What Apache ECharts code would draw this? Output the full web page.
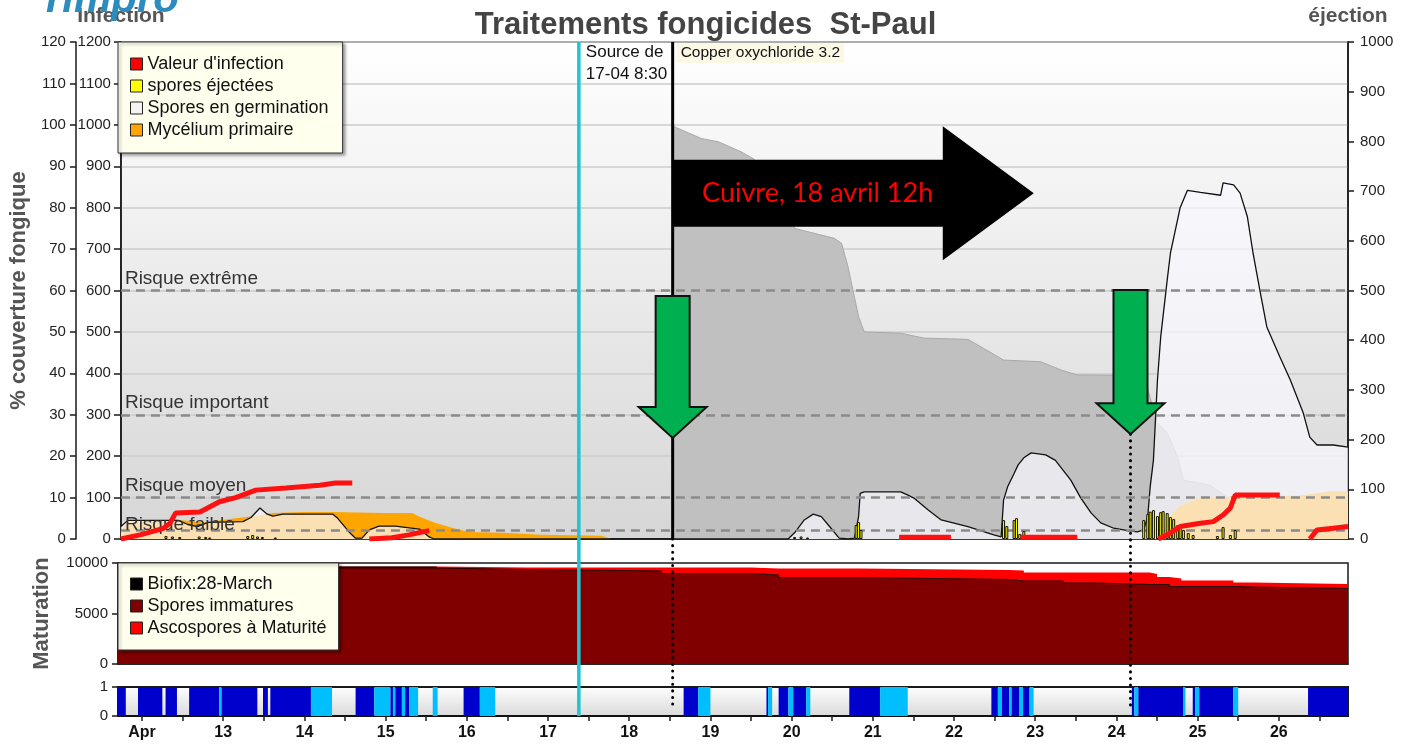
<!DOCTYPE html>
<html>
<head>
<meta charset="utf-8">
<script src="https://cdn.jsdelivr.net/npm/echarts@6.0.0/dist/echarts.min.js"></script>
<style>
html,body{margin:0;padding:0;background:#ffffff;}
#chart{width:1411px;height:746px;}
</style>
</head>
<body>
<div id="chart"></div>
<script>
// ================= DATA (days of April as decimal) =================
const xRange = [11.704, 26.852];
const dayLabels = [12,13,14,15,16,17,18,19,20,21,22,23,24,25,26];
const halfDayTicks = [12,12.5,13,13.5,14,14.5,15,15.5,16,16.5,17,17.5,18,18.5,19,19.5,20,20.5,21,21.5,22,22.5,23,23.5,24,24.5,25,25.5,26,26.5];

// Copper protection cover (% couverture fongique, 0-120 axis)
const copperCover = [[18.515,100],[18.54,99.5],[18.87,96.7],[19.08,95.9],[19.36,93.5],[19.52,91.7],[19.73,86],[19.92,80],[20.02,75],[20.51,72.6],[20.60,71.4],[20.68,65.7],[20.74,60.1],[20.81,53.7],[20.88,50],[21.33,49.7],[21.62,48.5],[22.16,48.2],[22.32,46.4],[22.60,43.2],[23.06,42.8],[23.31,40.8],[23.51,39.6],[24.33,39.5],[24.50,28],[24.62,25.6],[24.75,19.8],[24.82,14.2],[25.15,13],[25.36,10.1],[26.26,9.6],[26.852,9.6]];

// Mycélium primaire (0-120 axis)
const mycelium = [[11.704,2],[11.79,4],[12.47,4.5],[12.71,4],[13.12,5],[13.33,5.5],[13.58,6.3],[13.95,6.5],[14.32,6.5],[14.93,6.3],[15.30,6.3],[15.39,5.4],[15.58,3.9],[15.79,2.7],[16.00,1.7],[16.41,1.5],[16.90,1.0],[17.64,0.8],[17.76,0],[24.50,0],[24.54,3],[24.78,8],[25.03,10],[26.26,10.5],[26.63,11.5],[26.852,11.5]];

// Spores en germination (0-120 axis)
const germination = [[11.704,3],[11.79,4.5],[12.41,4.5],[12.53,3.5],[12.65,3],[12.78,4],[13.21,4.2],[13.31,5.2],[13.42,7.5],[13.51,6],[13.58,5.5],[13.70,6],[14.32,6],[14.38,5],[14.52,1.7],[14.60,0.2],[14.68,0.2],[14.77,2.2],[14.89,3.1],[15.09,3.1],[15.39,2.4],[15.51,0.5],[15.57,0],
[19.94,0],[20.02,1.5],[20.14,4.6],[20.25,6],[20.35,5.4],[20.47,2.6],[20.57,0.2],[20.68,0],[20.76,0.2],[20.81,5.4],[20.83,11],[20.88,11.4],[21.33,11.4],[21.42,10.6],[21.50,9.8],[21.67,7],[21.83,4.6],[22.16,3],[22.48,1],[22.57,0.5],[22.60,9.4],[22.65,12.6],[22.73,15.8],[22.78,17.9],[22.85,19.6],[22.94,20.8],[23.12,20.3],[23.24,19],[23.43,14.2],[23.55,10],[23.68,6.3],[23.80,3.9],[23.96,2.6],[24.13,2],[24.25,1.7],[24.33,2.2],[24.38,5.4],[24.41,12.6],[24.45,19],[24.50,38.4],[24.54,48.8],[24.62,62.5],[24.66,69],[24.78,80],[24.87,84.2],[25.03,83.7],[25.28,83],[25.31,86],[25.44,85.5],[25.52,83.5],[25.61,77.8],[25.68,69],[25.77,59.4],[25.85,51.2],[26.01,44],[26.14,38.4],[26.30,30.4],[26.38,24.6],[26.47,22.7],[26.67,22.7],[26.852,22.2]];

// Valeur d'infection (Infection axis 0-1200); null breaks the line
const infection = [[11.704,0],[11.94,10],[12.22,25],[12.31,38],[12.38,63],[12.68,65],[12.92,90],[13.12,100],[13.37,118],[13.74,123],[14.16,130],[14.35,135],[14.56,135],[14.57,null],
[14.77,0],[15.05,3],[15.26,10],[15.42,17],[15.51,20],[15.52,null],
[21.31,4],[21.95,4],[21.96,null],
[22.81,4],[23.51,4],[23.52,null],
[24.51,0],[24.62,10],[24.78,30],[25.03,38],[25.19,42],[25.31,58],[25.40,75],[25.46,106],[26.01,106],[26.02,null],
[26.38,0],[26.47,22],[26.67,26],[26.852,30]];

// spores éjectées (éjection axis 0-1000)
const ejected = [[12.26,6],[12.34,5],[12.43,4],[12.67,5],[12.75,4],[12.80,3],[13.27,6],[13.33,8],[13.39,5],[13.45,4],[13.61,3],[20.02,4],[20.10,5],[20.18,3],[20.78,28],[20.81,34],[20.84,18],[22.60,38],[22.64,26],[22.73,38],[22.76,42],[22.80,10],[22.85,16],[24.33,38],[24.38,50],[24.41,55],[24.45,58],[24.50,46],[24.54,54],[24.57,56],[24.62,52],[24.66,44],[24.70,40],[24.75,28],[24.78,22],[24.82,18],[24.88,12],[24.94,8],[25.24,6],[25.31,24],[25.40,8],[25.46,18]];

// Maturation (layers, step)
const matDays   = [11.704,15.63,16.73,18.40,19.50,19.84,20.83,22.67,22.86,23.35,23.75,24.41,24.50,24.65,24.80,25.44,25.68,26.852];
const immature  = [9500,9360,9210,8960,8810,8560,8370,8220,8220,8020,7870,7870,7870,7670,7670,7620,7480,7480];
const biofix    = [150,0,0,0,0,0,0,0,0,0,0,0,0,0,0,0,0,0];
const mature    = [0,190,340,590,640,890,940,1040,840,1040,1190,1040,740,800,600,450,440,440];

// Leaf wetness strip: [start, end, level] level 2 = dark blue, 1 = light blue
const wetness = [[11.704,11.80,2],[11.95,12.25,2],[12.29,12.43,2],[12.58,12.95,2],[12.95,12.98,1],[12.98,13.42,2],[13.49,13.55,2],[13.58,14.08,2],[14.08,14.34,1],[14.63,14.86,2],[14.86,15.06,1],[15.06,15.09,2],[15.09,15.12,1],[15.12,15.20,2],[15.20,15.24,1],[15.24,15.29,2],[15.29,15.40,1],[15.58,15.64,1],[15.96,16.16,2],[16.16,16.35,1],[18.67,18.85,2],[18.85,19.00,1],[19.69,19.71,2],[19.71,19.76,1],[19.84,19.96,2],[19.96,20.02,1],[20.02,20.18,2],[20.18,20.23,1],[20.71,21.09,2],[21.09,21.43,1],[22.46,22.54,2],[22.54,22.59,1],[22.59,22.68,2],[22.68,22.71,1],[22.71,22.80,2],[22.80,22.85,1],[22.85,22.93,2],[22.93,22.98,1],[24.19,24.22,2],[24.22,24.27,1],[24.27,24.82,2],[24.82,24.85,1],[24.94,24.97,2],[24.97,25.02,1],[25.02,25.44,2],[25.44,25.50,1],[26.36,26.852,2]];

// Risk thresholds (Infection axis)
const riskLevels = [600,300,100,20];
const riskNames = ['Risque extrême','Risque important','Risque moyen','Risque faible'];

// Annotations
const sourceDay = 17.357;          // Source de 17-04 8:30
const copperDay = 18.515;          // Copper oxychloride 3.2 / Cuivre 18 avril 12h
const arrowDays = [18.515, 24.167];
const arrowTopVals = [58.7, 60.1];
const arrowTipVals = [24.4, 25.3];
const cuivreArrowEnd = 22.973;
const cuivreArrowVal = 83.5;

// ================= CHART =================
const FONT = '"Liberation Sans", Arial, sans-serif';
const chart = echarts.init(document.getElementById('chart'), null, {renderer:'canvas'});
const axisLine = {show:true, onZero:false, lineStyle:{color:'#1a1a1a', width:1.5}};
const tickStyle = {color:'#1a1a1a', width:1.5};
const plain = v => String(v);
const bgMain = new echarts.graphic.LinearGradient(0,0,0,1,[{offset:0,color:'#ffffff'},{offset:1,color:'#d6d6d6'}]);
const bgStrip = new echarts.graphic.LinearGradient(0,0,0,1,[{offset:0,color:'#ffffff'},{offset:1,color:'#d9d9d9'}]);

const legendBase = {
  orient:'vertical', icon:'rect', itemWidth:12, itemHeight:12, itemGap:4, z:20,
  backgroundColor:'#ffffee', borderColor:'#333', borderWidth:1,
  shadowColor:'rgba(0,0,0,0.35)', shadowBlur:3, shadowOffsetX:2, shadowOffsetY:2,
  selectedMode:false, itemStyle:{borderColor:'#222', borderWidth:1},
  textStyle:{fontSize:18, color:'#111', fontFamily:FONT}
};

// layered maturation totals (built from the arrays above)
const matTotal = matDays.map((d,i)=>[d, immature[i] + biofix[i] + mature[i]]);
const matImmBio = matDays.map((d,i)=>[d, immature[i] + biofix[i]]);
const matImm = matDays.map((d,i)=>[d, immature[i]]);

const option = {
  animation:false,
  backgroundColor:'#ffffff',
  textStyle:{fontFamily:FONT},
  title:{text:'Traitements fongicides  St-Paul', left:'center', top:5,
    textStyle:{fontSize:31, fontWeight:'bold', color:'#444', fontFamily:FONT}},
  legend:[
    Object.assign({}, legendBase, {left:118, top:42, padding:[13,14,14,12],
      data:[
        {name:"Valeur d'infection", itemStyle:{color:'#ff0000'}},
        {name:'spores éjectées', itemStyle:{color:'#ffff00'}},
        {name:'Spores en germination', itemStyle:{color:'#f4f4f4'}},
        {name:'Mycélium primaire', itemStyle:{color:'#ffa500'}}
      ]}),
    Object.assign({}, legendBase, {left:118, top:563, padding:[12,12,13,12],
      data:[
        {name:'Biofix:28-March', itemStyle:{color:'#000000'}},
        {name:'Spores immatures', itemStyle:{color:'#800000'}},
        {name:'Ascospores à Maturité', itemStyle:{color:'#ff0000'}}
      ]})
  ],
  grid:[
    {left:118, top:42, width:1230, height:497, show:true, backgroundColor:bgMain, borderColor:'#1a1a1a', borderWidth:1.5},
    {left:118, top:563, width:1230, height:101, show:true, backgroundColor:'#ffffff', borderColor:'#1a1a1a', borderWidth:1.5},
    {left:118, top:687, width:1230, height:29, show:true, backgroundColor:bgStrip, borderColor:'#1a1a1a', borderWidth:2}
  ],
  xAxis:[
    {type:'value', gridIndex:0, min:xRange[0], max:xRange[1], axisLine:axisLine, axisTick:{show:false}, axisLabel:{show:false}, splitLine:{show:false}},
    {type:'value', gridIndex:1, min:xRange[0], max:xRange[1], axisLine:axisLine, axisTick:{show:false}, axisLabel:{show:false}, splitLine:{show:false}},
    {type:'value', gridIndex:2, min:xRange[0], max:xRange[1], axisLine:{show:true,onZero:false,lineStyle:{color:'#111',width:2}},
      axisTick:{show:true, customValues:halfDayTicks, length:5, lineStyle:tickStyle},
      axisLabel:{customValues:dayLabels, formatter:v => (v === 12 ? 'Apr' : String(v)), fontSize:16, fontWeight:'bold', color:'#111', margin:9},
      splitLine:{show:false}}
  ],
  yAxis:[
    {type:'value', gridIndex:0, position:'left', offset:45, min:0, max:120, interval:10,
      axisLine:axisLine, axisTick:{show:true, length:6, lineStyle:tickStyle},
      axisLabel:{fontSize:15, color:'#222', margin:10, formatter:plain}, splitLine:{show:false},
      name:'% couverture fongique', nameLocation:'middle', nameRotate:90, nameGap:45,
      nameTextStyle:{fontSize:22, fontWeight:'bold', color:'#555'}},
    {type:'value', gridIndex:0, position:'left', offset:0, min:0, max:1200, interval:100,
      axisLine:axisLine, axisTick:{show:true, length:7, lineStyle:tickStyle},
      axisLabel:{fontSize:15, color:'#222', margin:10, formatter:plain},
      splitLine:{show:true, lineStyle:{color:'#cdcdcd', width:1.5}},
      name:'Infection', nameLocation:'end', nameGap:15,
      nameTextStyle:{fontSize:21, fontWeight:'bold', color:'#555'}},
    {type:'value', gridIndex:0, position:'right', min:0, max:1000, interval:100,
      axisLine:axisLine, axisTick:{show:true, length:6, lineStyle:tickStyle},
      axisLabel:{fontSize:15, color:'#222', margin:12, formatter:plain}, splitLine:{show:false},
      name:'éjection', nameLocation:'end', nameGap:15,
      nameTextStyle:{fontSize:21, fontWeight:'bold', color:'#555'}},
    {type:'value', gridIndex:1, position:'left', min:0, max:10000, interval:5000,
      axisLine:axisLine, axisTick:{show:true, length:6, lineStyle:tickStyle},
      axisLabel:{fontSize:15, color:'#222', margin:10, formatter:plain}, splitLine:{show:false},
      name:'Maturation', nameLocation:'middle', nameRotate:90, nameGap:65,
      nameTextStyle:{fontSize:22, fontWeight:'bold', color:'#555'}},
    {type:'value', gridIndex:2, position:'left', min:0, max:1, interval:1,
      axisLine:axisLine, axisTick:{show:true, length:6, lineStyle:tickStyle},
      axisLabel:{fontSize:15, color:'#222', margin:10, formatter:plain}, splitLine:{show:false}}
  ],
  series:[
    {name:'Copper oxychloride 3.2', type:'line', xAxisIndex:0, yAxisIndex:0, data:copperCover,
      showSymbol:false, silent:true, lineStyle:{color:'#a9a9a9', width:1},
      areaStyle:{color:'#c0c0c0', opacity:1}, z:2},
    {name:'Mycélium primaire', type:'line', xAxisIndex:0, yAxisIndex:0, data:mycelium,
      showSymbol:false, silent:true, lineStyle:{width:0, color:'#ffa500'}, itemStyle:{color:'#ffa500'},
      areaStyle:{color:'#ffa500', opacity:1}, z:3},
    {name:'Spores en germination', type:'line', xAxisIndex:0, yAxisIndex:0, data:germination,
      showSymbol:false, silent:true, lineStyle:{color:'#111', width:1.3}, itemStyle:{color:'#f4f4f4'},
      areaStyle:{color:'rgba(250,250,255,0.7)', opacity:1}, z:4},
    {name:'spores éjectées', type:'bar', xAxisIndex:0, yAxisIndex:2, data:ejected, barWidth:3,
      silent:true, itemStyle:{color:'#ffff00', borderColor:'#141400', borderWidth:1}, z:5},
    {name:"Valeur d'infection", type:'line', xAxisIndex:0, yAxisIndex:1, data:infection,
      showSymbol:false, connectNulls:false, silent:true,
      lineStyle:{color:'#ff1111', width:5}, itemStyle:{color:'#ff0000'}, z:6,
      markLine:{silent:true, symbol:['none','none'], animation:false,
        lineStyle:{type:[9,6], color:'#8a8a8a', width:2.5},
        label:{show:true, position:'insideStartTop', formatter:'{b}', fontSize:19, color:'#333', distance:[4,2]},
        data:riskLevels.map((v,i)=>({yAxis:v, name:riskNames[i],
          label: i === 3 ? {distance:[4,-4]} : undefined}))}},
    {name:'Ascospores à Maturité', type:'line', xAxisIndex:1, yAxisIndex:3, step:'end',
      data:matTotal, showSymbol:false, silent:true,
      lineStyle:{width:0}, itemStyle:{color:'#ff0000'}, areaStyle:{color:'#ff0000', opacity:1}, z:2},
    {name:'Biofix:28-March', type:'line', xAxisIndex:1, yAxisIndex:3, step:'end',
      data:matImmBio, showSymbol:false, silent:true,
      lineStyle:{width:0}, itemStyle:{color:'#000'}, areaStyle:{color:'#000', opacity:1}, z:2},
    {name:'Spores immatures', type:'line', xAxisIndex:1, yAxisIndex:3, step:'end',
      data:matImm, showSymbol:false, silent:true,
      lineStyle:{color:'#2a0000', width:1}, itemStyle:{color:'#800000'},
      areaStyle:{color:'#800000', opacity:1}, z:2},
    {name:'Humectation', type:'custom', xAxisIndex:2, yAxisIndex:4, data:wetness, silent:true,
      encode:{x:[0,1]}, clip:true,
      renderItem:function(params, api){
        const s = api.coord([api.value(0), 1]);
        const e = api.coord([api.value(1), 0]);
        return {type:'rect', shape:{x:s[0], y:s[1], width:Math.max(1, e[0]-s[0]), height:e[1]-s[1]},
          style:{fill: api.value(2) === 2 ? '#0000cc' : '#00bfff'}};
      }, z:2}
  ]
};
chart.setOption(option);

// ================= ANNOTATIONS (positioned with the chart's own scales) =================
const gx = d => chart.convertToPixel({xAxisIndex:0}, d);
const gy = v => chart.convertToPixel({yAxisIndex:0}, v);
const plotTop = gy(120), plotBottom = gy(0);
const stripBottom = chart.convertToPixel({yAxisIndex:4}, 0);
const dotEnd = chart.convertToPixel({yAxisIndex:4}, 0.35);

const els = [];
const xs = gx(sourceDay);
els.push({type:'line', z:50, silent:true, shape:{x1:xs, y1:plotTop, x2:xs, y2:stripBottom}, style:{stroke:'#1fc6d2', lineWidth:3.5}});
const xc = gx(copperDay);
els.push({type:'line', z:50, silent:true, shape:{x1:xc, y1:plotTop, x2:xc, y2:plotBottom}, style:{stroke:'#000', lineWidth:3}});
els.push({type:'line', z:50, silent:true, shape:{x1:xc, y1:plotBottom, x2:xc, y2:dotEnd}, style:{stroke:'#000', lineWidth:3, lineDash:[0.1,6.5], lineCap:'round'}});
const x2 = gx(arrowDays[1]);
els.push({type:'line', z:50, silent:true, shape:{x1:x2, y1:gy(arrowTipVals[1]), x2:x2, y2:dotEnd}, style:{stroke:'#000', lineWidth:3, lineDash:[0.1,6.5], lineCap:'round'}});
arrowDays.forEach((d,i)=>{
  const cx = gx(d), yt = gy(arrowTopVals[i]), yp = gy(arrowTipVals[i]);
  const hb = yp - 31;
  els.push({type:'polygon', z:60, silent:true,
    shape:{points:[[cx-17,yt],[cx+17,yt],[cx+17,hb],[cx+34,hb],[cx,yp],[cx-34,hb],[cx-17,hb]]},
    style:{fill:'#00b050', stroke:'#111', lineWidth:2, lineJoin:'miter'}});
});
const ay = gy(cuivreArrowVal), ax0 = xc, ax1 = gx(cuivreArrowEnd);
const headStart = ax1 - 91;
els.push({type:'polygon', z:60, silent:true,
  shape:{points:[[ax0,ay-33.5],[headStart,ay-33.5],[headStart,ay-67],[ax1,ay],[headStart,ay+67],[headStart,ay+33.5],[ax0,ay+33.5]]},
  style:{fill:'#000'}});
els.push({type:'text', z:61, silent:true, x:ax0 + 145, y:ay,
  style:{text:'Cuivre, 18 avril 12h', fill:'#ff0000', font:'27px Lato, "Open Sans", sans-serif', align:'center', verticalAlign:'middle'}});
els.push({type:'text', z:62, silent:true, x:xs + 7, y:plotTop - 1,
  style:{text:'Source de\n17-04 8:30', fill:'#111', font:'17px ' + FONT, lineHeight:22, align:'left', verticalAlign:'top'}});
els.push({type:'text', z:62, silent:true, x:xc + 4, y:plotTop + 1,
  style:{text:'Copper oxychloride 3.2', fill:'#111', font:'15.5px ' + FONT, backgroundColor:'#fbf9e6', padding:[2,4,2,4], align:'left', verticalAlign:'top'}});
els.push({type:'text', z:1, silent:true, x:46, y:21,
  style:{text:'rimpro', fill:'#2b8cbd', font:'italic bold 42px ' + FONT, align:'left', verticalAlign:'bottom'}});

chart.setOption({graphic:{elements:els}});
</script>
</body>
</html>
